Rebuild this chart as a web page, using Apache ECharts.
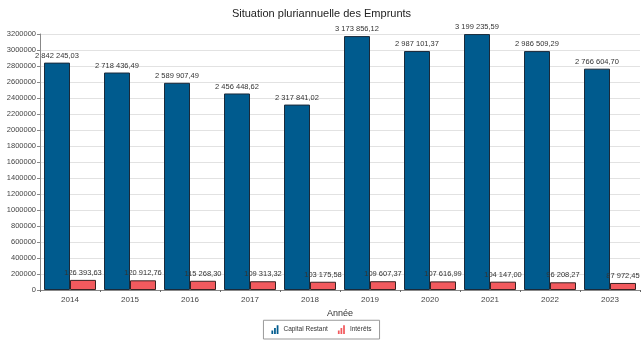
<!DOCTYPE html>
<html><head><meta charset="utf-8">
<script src="https://cdn.jsdelivr.net/npm/echarts@6/dist/echarts.min.js"></script>
<style>html,body{margin:0;padding:0;background:#fff}#c{width:643px;height:343px}</style>
</head><body><div id="c"></div>
<script>
const years = ['2014','2015','2016','2017','2018','2019','2020','2021','2022','2023'];
const capital = [2842245.03, 2718436.49, 2589907.49, 2456448.62, 2317841.02, 3173856.12, 2987101.37, 3199235.59, 2986509.29, 2766604.70];
const interets = [126393.63, 120912.76, 115268.30, 109313.32, 103175.58, 109607.37, 107616.99, 104147.00, 96208.27, 87972.45];

function fmt(v){
  const s = v.toFixed(2).split('.');
  return s[0].replace(/\B(?=(\d{3})+(?!\d))/g,' ') + ',' + s[1];
}
const icon = 'path://M0,10 L2,10 L2,6 L0,6 Z M3,10 L5,10 L5,3 L3,3 Z M6,10 L8,10 L8,0 L6,0 Z';
const chart = echarts.init(document.getElementById('c'));
chart.setOption({
  animation:false,
  textStyle:{fontFamily:'Liberation Sans, Arial, sans-serif'},
  title:{text:'Situation pluriannuelle des Emprunts',left:'center',top:3,
    textStyle:{fontSize:11,fontWeight:'normal',color:'#222'}},
  grid:{left:40,right:3,top:34,bottom:53},
  legend:{bottom:4,left:'center',itemWidth:7,itemHeight:9,itemGap:10,
    borderColor:'#999',borderWidth:1,padding:[5,8],
    itemStyle:{borderWidth:0},
    textStyle:{fontSize:6.5,color:'#333'},
    data:[{name:'Capital Restant',icon:icon},{name:'Intérêts',icon:icon}]},
  xAxis:{type:'category',data:years,name:'Année',nameLocation:'middle',nameGap:19,
    nameTextStyle:{fontSize:9,color:'#333'},
    axisLine:{lineStyle:{color:'#888'}},
    axisTick:{show:true,length:2,lineStyle:{color:'#666'}},
    axisLabel:{fontSize:8,color:'#444',margin:6}},
  yAxis:{type:'value',min:0,max:3200000,interval:200000,
    axisLine:{show:true,lineStyle:{color:'#888'}},
    axisTick:{show:true,length:3,lineStyle:{color:'#888'}},
    axisLabel:{fontSize:7.5,color:'#444',margin:4,formatter:v=>String(v)},
    splitLine:{lineStyle:{color:'#e2e2e2'}}},
  series:[
    {name:'Capital Restant',type:'bar',data:capital,barWidth:26,barGap:'0%',
     itemStyle:{color:'#005b8e',borderColor:'#1b2a3a',borderWidth:1},
     label:{show:true,position:'top',distance:3,fontSize:7.5,color:'#333',formatter:p=>fmt(p.value)}},
    {name:'Intérêts',type:'bar',data:interets,barWidth:26,
     itemStyle:{color:'#f25a5e',borderColor:'#3a2222',borderWidth:1},
     label:{show:true,position:'top',distance:3,fontSize:7.5,color:'#333',formatter:p=>fmt(p.value)}}
  ]
});
</script></body></html>
